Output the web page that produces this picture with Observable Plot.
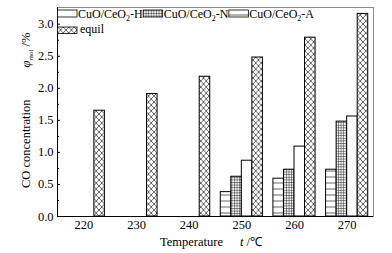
<!DOCTYPE html>
<html>
<head>
<meta charset="utf-8">
<script src="https://cdn.jsdelivr.net/npm/d3@7"></script>
<script src="https://cdn.jsdelivr.net/npm/@observablehq/plot@0.6"></script>
<style>
  html, body { margin: 0; padding: 0; background: #fff; }
  #chart svg { display: block; }
</style>
</head>
<body>
<svg width="0" height="0" style="position:absolute">
  <defs>
    <pattern id="p-hl" patternUnits="userSpaceOnUse" width="6" height="6">
      <rect width="6" height="6" fill="#fff"/>
      <line x1="0" y1="3" x2="6" y2="3" stroke="#000" stroke-width="0.6"/>
    </pattern>
    <pattern id="p-grid" patternUnits="userSpaceOnUse" width="2.6" height="2.6">
      <rect width="2.6" height="2.6" fill="#fff"/>
      <path d="M0 0.5H2.6M0.5 0V2.6" stroke="#000" stroke-width="0.45" fill="none"/>
    </pattern>
    <pattern id="p-cross" patternUnits="userSpaceOnUse" width="5.5" height="6">
      <rect width="5.5" height="6" fill="#fff"/>
      <path d="M0 0L5.5 6M5.5 0L0 6" stroke="#000" stroke-width="0.6" fill="none"/>
    </pattern>
  </defs>
</svg>
<div id="chart"></div>
<script>
// ---- data ----
const temperatures = [220, 230, 240, 250, 260, 270];
const seriesNames = ["CuO/CeO2-A", "CuO/CeO2-N", "CuO/CeO2-H", "equil"]; // bar order within a group
const legendOrder = ["CuO/CeO2-H", "CuO/CeO2-N", "CuO/CeO2-A"];
const valuesA = [null, null, null, 0.38, 0.59, 0.73];
const valuesN = [null, null, null, 0.62, 0.73, 1.48];
const valuesH = [null, null, null, 0.87, 1.09, 1.56];
const valuesEquil = [1.65, 1.91, 2.18, 2.48, 2.79, 3.16];
const yTicks = [0, 0.5, 1.0, 1.5, 2.0, 2.5, 3.0];
const yMinorTicks = [0.25, 0.75, 1.25, 1.75, 2.25, 2.75];
const xDomain = [215, 275];
const yDomain = [0, 3.26];

// ---- styling ----
const seriesFills = ["url(#p-hl)", "url(#p-grid)", "#fff", "url(#p-cross)"];
const fillOf = Object.fromEntries(seriesNames.map((s, i) => [s, seriesFills[i]]));

const seriesValues = [valuesA, valuesN, valuesH, valuesEquil];
const rows = [];
temperatures.forEach((t, i) => seriesNames.forEach((s, j) => {
  const v = seriesValues[j][i];
  if (v != null) rows.push({temperature: t, series: s, slot: j, value: v});
}));

const barW = 2; // width of one bar in x units (°C)
const chart = Plot.plot({
  width: 392,
  height: 253,
  marginTop: 7,
  marginRight: 19,
  marginBottom: 37,
  marginLeft: 57,
  style: {fontFamily: "'Liberation Serif', 'Times New Roman', serif", fontSize: "12.5px", color: "#000", background: "#fff"},
  x: {domain: xDomain},
  y: {domain: yDomain},
  color: {type: "ordinal", domain: seriesNames, range: seriesFills},
  marks: [
    Plot.rect(rows, {
      x1: d => d.temperature - 2 * barW + d.slot * barW,
      x2: d => d.temperature - barW + d.slot * barW,
      y1: 0,
      y2: "value",
      fill: "series",
      stroke: "#000",
      strokeWidth: 1
    }),
    Plot.frame({stroke: "#8c8c8c"}),
    Plot.ruleY([yDomain[0]], {stroke: "#000"}),
    Plot.ruleX([xDomain[0]], {stroke: "#000"}),
    Plot.axisY(yTicks, {tickSize: 0, tickPadding: 4, tickFormat: d3.format(".1f"), label: null}),
    Plot.axisY(yTicks, {tickSize: 3, dx: 3, tickFormat: () => "", label: null}),
    Plot.axisY(yMinorTicks, {tickSize: 2, dx: 2, tickFormat: () => "", label: null}),
    Plot.axisX(temperatures, {tickSize: 0, tickPadding: 4, tickFormat: d3.format("d"), label: null})
  ]
});
document.getElementById("chart").appendChild(chart);

// ---- titles and legend ----
const svg = d3.select(chart);
const xr = chart.scale("x").range, yr = chart.scale("y").range;
const plotLeft = Math.min(...xr), plotRight = Math.max(...xr);
const plotTop = Math.min(...yr), plotBottom = Math.max(...yr);
const font = "'Liberation Serif', 'Times New Roman', serif";

// x title
const xt = svg.append("text")
  .attr("x", plotLeft + 103).attr("y", plotBottom + 30).attr("text-anchor", "start")
  .attr("font-family", font).attr("font-size", 12.5).attr("fill", "#000");
xt.append("tspan").text("Temperature");
xt.append("tspan").attr("dx", 17).attr("font-style", "italic").text("t");
xt.append("tspan").text(" /\u2103");

// y title
const yt = svg.append("text")
  .attr("transform", `translate(30,${plotBottom - 28}) rotate(-90)`).attr("text-anchor", "start")
  .attr("font-family", font).attr("font-size", 12.5).attr("fill", "#000");
yt.append("tspan").text("CO concentration");
yt.append("tspan").attr("dx", 32).attr("font-style", "italic").text("\u03c6");
yt.append("tspan").attr("font-size", 7).attr("dy", 3).text("mol");
yt.append("tspan").attr("dy", -3).text(" /%");

// legend
const lg = svg.append("g").attr("font-family", font).attr("font-size", 12).attr("fill", "#000")
  .attr("text-anchor", "start");
let lx = plotLeft + 0.5;
const row1Top = plotTop + 3, row2Top = plotTop + 20;
legendOrder.forEach(name => {
  lg.append("rect").attr("x", lx).attr("y", row1Top).attr("width", 19.5).attr("height", 7)
    .attr("fill", fillOf[name]).attr("stroke", "#000").attr("stroke-width", 0.8);
  const t = lg.append("text").attr("x", lx + 20.5).attr("y", row1Top + 8.3);
  const [base, suffix] = name.split("2");
  t.append("tspan").text(base);
  t.append("tspan").attr("font-size", 8).attr("dy", 2.5).text("2");
  t.append("tspan").attr("dy", -2.5).text(suffix);
  lx = lx + 20.5 + t.node().getComputedTextLength() + 0.5;
});
lg.append("rect").attr("x", plotLeft + 0.5).attr("y", row2Top).attr("width", 19.5).attr("height", 6.5)
  .attr("fill", fillOf["equil"]).attr("stroke", "#000").attr("stroke-width", 0.8);
lg.append("text").attr("x", plotLeft + 23).attr("y", row2Top + 6.3).text("equil");
</script>
</body>
</html>
